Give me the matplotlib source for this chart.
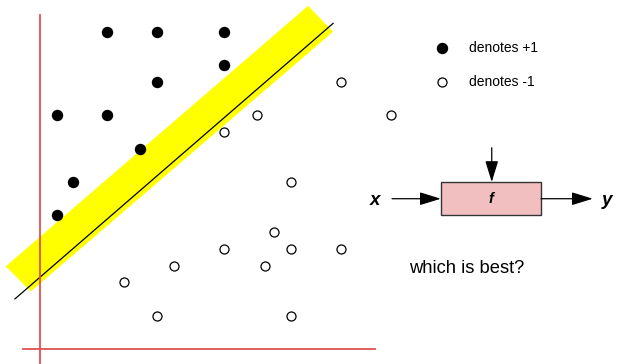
import matplotlib
matplotlib.use("Agg")
import matplotlib.pyplot as plt
from matplotlib.patches import Polygon, Rectangle

# data points, in grid units (origin at the red axes crossing)
pos_x = [4, 7, 11, 11, 7, 1, 4, 6, 2, 1]
pos_y = [19, 19, 19, 17, 16, 14, 14, 12, 10, 8]
neg_x = [18, 13, 11, 15, 14, 11, 15, 18, 8, 13.5, 5, 7, 15, 21]
neg_y = [16, 14, 13, 10, 7, 6, 6, 6, 5, 5, 4, 2, 2, 14]

# separating line and its margin band
line_x = [-1.5, 17.55]
line_y = [3.0, 19.5]
band_x = [-2.05, -0.55, 17.55, 16.05]
band_y = [4.95, 3.45, 19.0, 20.55]

fig = plt.figure(figsize=(6.17, 3.64), dpi=100)
ax = fig.add_axes([0, 0, 1, 1])
ax.set_xlim(-2.395, 34.55)
ax.set_ylim(-0.898, 20.9)
ax.axis('off')

# margin band + classifier
ax.add_patch(Polygon(list(zip(band_x, band_y)), closed=True, facecolor='#ffff00',
                     edgecolor='none', zorder=1))
ax.plot(line_x, line_y, color='black', lw=0.9, zorder=2)

# red axes
ax.plot([0, 0], [-1, 20.0], color='#e05050', lw=1.3, zorder=3)
ax.plot([-1.02, 20.05], [0, 0], color='#e05050', lw=1.3, zorder=3)

# points
ax.plot(pos_x, pos_y, 'o', ms=7.2, color='black', zorder=4)
ax.plot(neg_x, neg_y, 'o', ms=6.5, mfc='white', mec='black', mew=0.9, zorder=4)

# legend
ax.plot([24.05], [18], 'o', ms=7.2, color='black')
ax.plot([24.05], [16], 'o', ms=6.5, mfc='white', mec='black', mew=0.9)
ax.text(25.7, 18, 'denotes +1', fontsize=10, family='Liberation Sans', va='center')
ax.text(25.7, 16, 'denotes -1', fontsize=10, family='Liberation Sans', va='center')

# f box diagram
ax.add_patch(Rectangle((24, 8), 6, 2, facecolor='#f2bfc0', edgecolor='#333333', lw=1.0))
ax.text(27, 9, 'f', fontsize=10.5, family='Liberation Sans', weight='bold', style='italic',
        ha='center', va='center')
ax.text(20.06, 8.9, 'x', fontsize=13.5, family='Liberation Sans', weight='bold', style='italic',
        ha='center', va='center')
ax.text(33.95, 8.9, 'y', fontsize=13.5, family='Liberation Sans', weight='bold', style='italic',
        ha='center', va='center')
arr = dict(arrowstyle='-|>,head_length=0.65,head_width=0.2', mutation_scale=20,
           color='black', lw=0.9, shrinkA=0, shrinkB=0)
ax.annotate('', xy=(24, 9), xytext=(21.08, 9), arrowprops=arr)
ax.annotate('', xy=(33.1, 9), xytext=(30, 9), arrowprops=arr)
ax.annotate('', xy=(27.05, 10), xytext=(27.05, 12.05), arrowprops=arr)

ax.text(22.1, 4.85, 'which is best?', fontsize=13.2, family='Liberation Sans', va='center')

fig.savefig('out.png', dpi=100)
